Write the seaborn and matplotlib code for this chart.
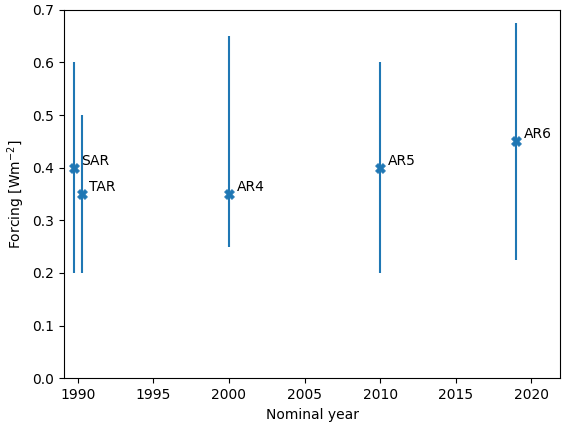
import matplotlib
matplotlib.use("Agg")
import matplotlib.pyplot as plt
import seaborn as sns
import numpy as np

reports = ["SAR", "TAR", "AR4", "AR5", "AR6"]
years = [1989.75, 1990.25, 2000, 2010, 2019]
central = [0.4, 0.35, 0.35, 0.4, 0.45]
low = [0.2, 0.2, 0.25, 0.2, 0.225]
high = [0.6, 0.5, 0.65, 0.6, 0.675]

fig, ax = plt.subplots(figsize=(5.68, 4.25), dpi=100)
c = np.array(central)
yerr = [c - np.array(low), np.array(high) - c]
ax.errorbar(years, central, yerr=yerr, fmt="none", ecolor="#1f77b4")
sns.scatterplot(x=years, y=central, marker="X", s=50, color="#1f77b4", ax=ax, zorder=3, edgecolor="#1f77b4")
for r, x, y in zip(reports, years, central):
    ax.text(x + 0.5, y, r, fontsize=10, va="bottom" if r not in ("TAR",) else "bottom")
ax.set_ylim(0, 0.7)
ax.set_xlim(1989.1, 2021.9)
ax.set_xlabel("Nominal year")
ax.set_ylabel("Forcing [Wm$^{-2}$]")
fig.subplots_adjust(left=0.113, right=0.986, top=0.977, bottom=0.11)
fig.savefig("out.png")
